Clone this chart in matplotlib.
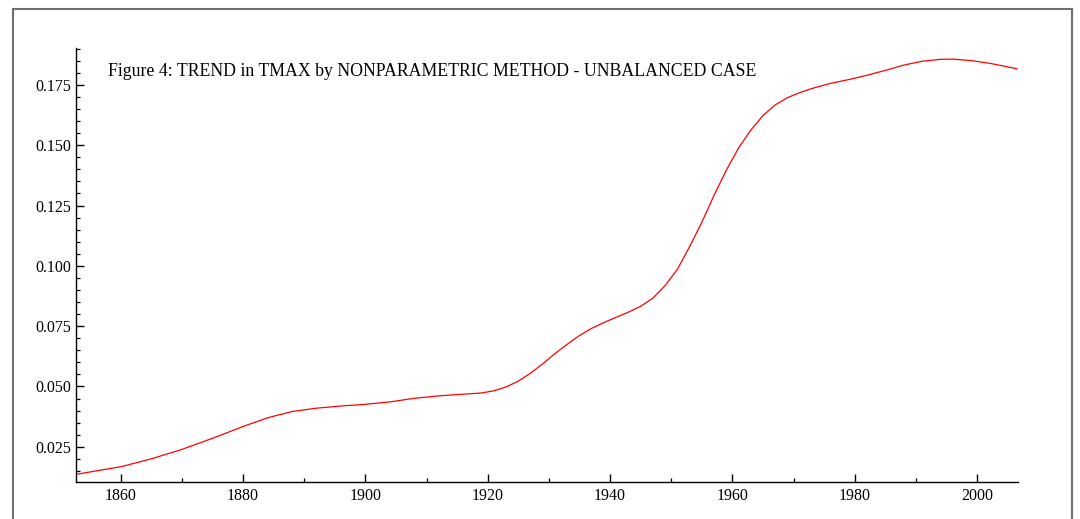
import matplotlib
matplotlib.use("Agg")
import matplotlib.pyplot as plt
from matplotlib.lines import Line2D
from matplotlib.ticker import MultipleLocator, FormatStrFormatter

# ─────────────────────────────────────────────
# Data
# ─────────────────────────────────────────────

years = [1853, 1856, 1860, 1865, 1870, 1875, 1880, 1884, 1888, 1892,
         1896, 1900, 1904, 1908, 1912, 1916, 1919, 1921, 1923, 1925,
         1927, 1929, 1931, 1933, 1935, 1937, 1939, 1941, 1943, 1945,
         1947, 1949, 1951, 1953, 1955, 1957, 1959, 1961, 1963, 1965,
         1967, 1969, 1971, 1973, 1976, 1979, 1982, 1985, 1988, 1991,
         1994, 1996, 1999, 2002, 2004, 2006.5]

trend = [0.0137, 0.0150, 0.0167, 0.0200, 0.0239, 0.0285, 0.0334, 0.0370, 0.0396, 0.0410,
         0.0419, 0.0426, 0.0436, 0.0451, 0.0461, 0.0468, 0.0473, 0.0482, 0.0498, 0.0522,
         0.0555, 0.0594, 0.0636, 0.0675, 0.0711, 0.0741, 0.0765, 0.0787, 0.0808, 0.0832,
         0.0866, 0.0918, 0.0985, 0.1079, 0.1180, 0.1292, 0.1396, 0.1488, 0.1562, 0.1623,
         0.1667, 0.1697, 0.1718, 0.1735, 0.1756, 0.1772, 0.1790, 0.1810, 0.1832, 0.1848,
         0.1856, 0.1857, 0.1851, 0.1840, 0.1830, 0.1817]

TITLE = "Figure 4: TREND in TMAX by NONPARAMETRIC METHOD - UNBALANCED CASE"

# ─────────────────────────────────────────────
# Figure
# ─────────────────────────────────────────────

plt.rcParams['font.family'] = ['Liberation Serif', 'DejaVu Serif']

fig = plt.figure(figsize=(10.8, 5.19), dpi=100)
ax = fig.add_axes([0.0704, 0.0713, 0.8722, 0.8362])

ax.plot(years, trend, color="red", linewidth=0.9, solid_joinstyle="round")

ax.set_xlim(1852.7, 2006.7)
ax.set_ylim(0.0104, 0.1903)

ax.xaxis.set_major_locator(MultipleLocator(20))
ax.xaxis.set_minor_locator(MultipleLocator(10))
ax.yaxis.set_major_locator(MultipleLocator(0.025))
ax.yaxis.set_minor_locator(MultipleLocator(0.005))
ax.yaxis.set_major_formatter(FormatStrFormatter("%.3f"))

for side in ("top", "right"):
    ax.spines[side].set_visible(False)
for side in ("left", "bottom"):
    ax.spines[side].set_linewidth(1.0)

ax.tick_params(which="major", direction="in", length=5.5, width=1.0, labelsize=11.5)
ax.tick_params(which="minor", direction="in", length=2.8, width=0.9)
ax.tick_params(axis="y", which="major", pad=3.5)
ax.tick_params(axis="x", which="major", pad=4.5)

ax.text(0.034, 0.946, TITLE, transform=ax.transAxes, fontsize=12.8,
        ha="left", va="center")

# grey page frame (bottom edge falls outside the image)
frame_kw = dict(color="#707070", linewidth=1.5, transform=fig.transFigure)
x0, x1 = 13 / 1080, 1071.5 / 1080
ytop = 1 - 9 / 519
fig.add_artist(Line2D([x0, x0], [-0.05, ytop], **frame_kw))
fig.add_artist(Line2D([x1, x1], [-0.05, ytop], **frame_kw))
fig.add_artist(Line2D([x0, x1], [ytop, ytop], **frame_kw))

fig.savefig("out.png", dpi=100)
